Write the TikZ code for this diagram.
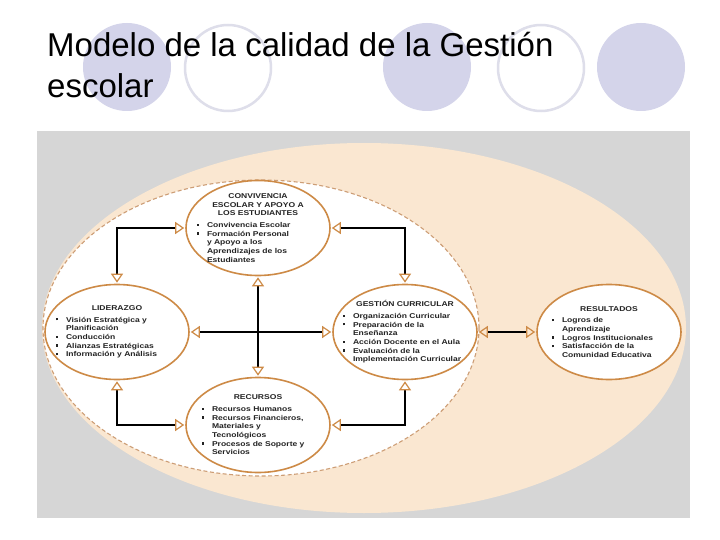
\documentclass[tikz,border=0pt]{standalone}
\usepackage{xcolor}
\usepackage{fontspec}
\usepackage{tikz}
\usetikzlibrary{shapes.geometric,arrows.meta}

\setmainfont{Liberation Sans}
\newfontfamily\diagfont[FakeStretch=1.22]{Liberation Sans}

\definecolor{panelgray}{RGB}{214,214,214}
\definecolor{peach}{RGB}{250,231,209}
\definecolor{ocre}{RGB}{205,138,70}
\definecolor{dashocre}{RGB}{205,158,118}
\definecolor{lavender}{RGB}{212,212,234}
\definecolor{lavline}{RGB}{222,222,234}
\definecolor{ink}{RGB}{35,35,35}

% item with hanging indent
\newcommand{\itm}[1]{\par\hangindent=10pt\hangafter=1\noindent\makebox[10pt][l]{\rule[1.6pt]{2.2pt}{2.2pt}}#1\par}
\newcommand{\areahead}[1]{{\centering #1\par}\vspace{2.8pt}}

\begin{document}
\begin{tikzpicture}[
    x=1pt, y=-1pt,
    title/.style={font=\fontsize{33}{40}\selectfont, anchor=base west, inner sep=0pt},
    area/.style={ellipse, draw=ocre, line width=1.6pt, fill=white, minimum width=144pt, minimum height=95pt},
    areatext/.style={font=\diagfont\bfseries\fontsize{7}{8.7}\selectfont, text=ink, text width=#1, align=left, inner sep=0pt},
    link/.style={<->, >={Triangle[length=9pt, width=12pt, color=ocre, fill=#1, line width=1.2pt]}, line width=1.5pt, shorten <=1pt, shorten >=1pt},
    link/.default=white
]
\useasboundingbox (0,0) rectangle (720,540);
\fill[white] (0,0) rectangle (720,540);

% title with the circles behind it
\fill[lavender] (127,67) circle [radius=44pt];
\fill[lavender] (427,67) circle [radius=44pt];
\fill[lavender] (641,67) circle [radius=44pt];
\draw[lavline, line width=2.5pt] (228,68) circle [radius=43pt];
\draw[lavline, line width=2.5pt] (541,68) circle [radius=43pt];
\node[title] (titleA) at (47,57) {Modelo de la calidad de la Gestión};
\node[title] (titleB) at (47,98) {escolar};

% panel
\fill[panelgray] (37,131) rectangle (690,518);
\fill[peach] (364,328) ellipse [x radius=322pt, y radius=185pt];
\filldraw[fill=white, draw=dashocre, line width=1.1pt, dash pattern=on 4pt off 2.5pt] (261,328) ellipse [x radius=218pt, y radius=148pt];

% areas
\node[area] (conv) at (258,228) {};
\node[area] (lid) at (117,332) {};
\node[area] (ges) at (405,332) {};
\node[area] (rec) at (258,425) {};
\node[area] (res) at (609,332) {};

\node[areatext=122pt] (convtxt) at (conv) {\areahead{CONVIVENCIA\\ESCOLAR Y APOYO A\\LOS ESTUDIANTES}
\itm{Convivencia Escolar}
\itm{Formación Personal\newline y Apoyo a los\newline Aprendizajes de los\newline Estudiantes}};

\node[areatext=122pt] (lidtxt) at (lid) {\areahead{LIDERAZGO}
\itm{Visión Estratégica y\newline Planificación}
\itm{Conducción}
\itm{Alianzas Estratégicas}
\itm{Información y Análisis}};

\node[areatext=124pt] (gestxt) at (ges) {\areahead{GESTIÓN CURRICULAR}
\itm{Organización Curricular}
\itm{Preparación de la\newline Enseñanza}
\itm{Acción Docente en el Aula}
\itm{Evaluación de la\newline Implementación Curricular}};

\node[areatext=112pt] (rectxt) at (rec) {\areahead{RECURSOS}
\itm{Recursos Humanos}
\itm{Recursos Financieros,\newline Materiales y\newline Tecnológicos}
\itm{Procesos de Soporte y\newline Servicios}};

\node[areatext=114pt] (restxt) at (res) {\areahead{RESULTADOS}
\itm{Logros de\newline Aprendizaje}
\itm{Logros Institucionales}
\itm{Satisfacción de la\newline Comunidad Educativa}};

% connectors
\draw[link] (lid.north) |- (conv.west);
\draw[link] (conv.east) -| (ges.north);
\draw[link] (lid.south) |- (rec.west);
\draw[link] (rec.east) -| (ges.south);
\draw[link] (conv.south) -- (rec.north);
\draw[link] (lid.east) -- (ges.west);
\draw[link=peach] (ges.east) -- (res.west);

\end{tikzpicture}
\end{document}
